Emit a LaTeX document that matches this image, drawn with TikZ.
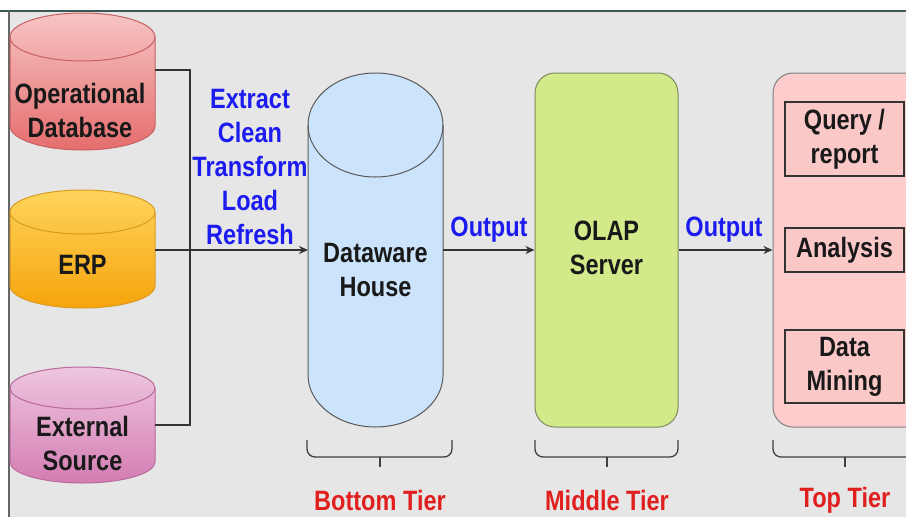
\documentclass[tikz,border=0pt]{standalone}
\usepackage{fontspec}
\setmainfont{Liberation Sans}[FakeStretch=0.84]
\usetikzlibrary{arrows.meta}
\definecolor{bggray}{HTML}{E6E6E6}
\definecolor{topline}{HTML}{3D5656}
\definecolor{opTop}{HTML}{F7C4C4}
\definecolor{opBot}{HTML}{E56D6D}
\definecolor{opLine}{HTML}{C76060}
\definecolor{erpTop}{HTML}{FFD45C}
\definecolor{erpBot}{HTML}{F5A40C}
\definecolor{erpLine}{HTML}{D99A20}
\definecolor{extTop}{HTML}{EEC6DF}
\definecolor{extBot}{HTML}{D47DB3}
\definecolor{extLine}{HTML}{B86A9A}
\definecolor{dwFill}{HTML}{CCE4FB}
\definecolor{olapFill}{HTML}{D3EA8B}
\definecolor{olapLine}{HTML}{7C8A5C}
\definecolor{tierFill}{HTML}{FDCDCD}
\definecolor{innerFill}{HTML}{FBC8C8}
\definecolor{lblue}{HTML}{1C1CF0}
\definecolor{lred}{HTML}{E0201E}
\definecolor{conn}{HTML}{333333}
\tikzset{
  txt/.style={font=\bfseries\fontsize{28}{34}\selectfont, text=black!90, align=center, inner sep=0pt},
  bluetxt/.style={txt, text=lblue},
  redtxt/.style={txt, text=lred},
  holder/.style={inner sep=0pt, outer sep=0pt},
  conline/.style={draw=conn, line width=1.5pt},
  arr/.style={conline, -{Stealth[length=9pt,width=8pt]}},
  bracestyle/.style={draw=black!75, line width=1.3pt, rounded corners=8pt},
  innerbox/.style={draw=black!80, line width=1.2pt, fill=innerFill, minimum width=119pt, inner sep=0pt}
}
\begin{document}
\begin{tikzpicture}[x=1pt,y=-1pt]
\useasboundingbox (0,0) rectangle (906,517);
\fill[white] (0,0) rectangle (906,517);
\fill[bggray] (9,11) rectangle (906,517);
\draw[topline, line width=2pt] (0,11) -- (906,11);
\draw[black!60, line width=1.5pt] (9,11) -- (9,517);

% cylinders: L R T B ry
% Operational: 10 155 13 150 24
\shade[top color=opTop, bottom color=opBot, draw=opLine, line width=1pt]
  (10,37) -- (10,126) arc[start angle=180,end angle=0,x radius=72.5,y radius=24]
  -- (155,37) arc[start angle=0,end angle=-180,x radius=72.5,y radius=24] -- cycle;
\draw[opLine, line width=1pt] (10,37) arc[start angle=180,end angle=0,x radius=72.5,y radius=24];
\node[holder, minimum width=145pt, minimum height=137pt] (op) at (82.5,81.5) {};
\node[txt] (opt) at (80,110) {Operational\\Database};

% ERP: 10 155 190 308 22
\shade[top color=erpTop, bottom color=erpBot, draw=erpLine, line width=1pt]
  (10,212) -- (10,286) arc[start angle=180,end angle=0,x radius=72.5,y radius=22]
  -- (155,212) arc[start angle=0,end angle=-180,x radius=72.5,y radius=22] -- cycle;
\draw[erpLine, line width=1pt] (10,212) arc[start angle=180,end angle=0,x radius=72.5,y radius=22];
\node[holder, minimum width=145pt, minimum height=118pt] (erp) at (82.5,249) {};
\node[txt] (erpt) at (82.5,265) {ERP};

% External: 10 155 367 483 21
\shade[top color=extTop, bottom color=extBot, draw=extLine, line width=1pt]
  (10,388) -- (10,462) arc[start angle=180,end angle=0,x radius=72.5,y radius=21]
  -- (155,388) arc[start angle=0,end angle=-180,x radius=72.5,y radius=21] -- cycle;
\draw[extLine, line width=1pt] (10,388) arc[start angle=180,end angle=0,x radius=72.5,y radius=21];
\node[holder, minimum width=145pt, minimum height=116pt] (ext) at (82.5,425) {};
\node[txt] (extt) at (82.5,443) {External\\Source};

% Dataware house: 308 443 73 427 52
\filldraw[fill=dwFill, draw=black!65, line width=1pt]
  (308,125) -- (308,375) arc[start angle=180,end angle=0,x radius=67.5,y radius=52]
  -- (443,125) arc[start angle=0,end angle=-180,x radius=67.5,y radius=52] -- cycle;
\draw[black!65, line width=1pt] (308,125) arc[start angle=180,end angle=0,x radius=67.5,y radius=52];
\node[holder, minimum width=135pt, minimum height=354pt] (dw) at (375.5,250) {};
\node[txt] (dwt) at (375.5,270) {Dataware\\House};

% OLAP server
\node[draw=olapLine, line width=1pt, fill=olapFill, rounded corners=20pt,
      minimum width=143pt, minimum height=354pt, inner sep=0pt] (olap) at (606.5,250) {};
\node[txt] (olapt) at (606.5,248) {OLAP\\Server};

% Top tier
\begin{scope}
\clip (0,0) rectangle (906,517);
\node[draw=black!50, line width=1pt, fill=tierFill, rounded corners=20pt,
      minimum width=152pt, minimum height=354pt, inner sep=0pt] (tier) at (849,250) {};
\node[innerbox, minimum height=74pt, txt] (qr) at (844.5,139) {Query /\\report};
\node[innerbox, minimum height=44pt, txt] (an) at (844.5,250) {Analysis};
\node[innerbox, minimum height=73pt, txt] (dm) at (844.5,366.5) {Data\\Mining};
\end{scope}

% connectors
\coordinate (j1) at (190,70);
\coordinate (j3) at (190,425);
\draw[conline] (op.east |- j1) -- (j1) -- (j3) -- (ext.east |- j3);
\draw[arr] (erp.east |- dw.west) -- (dw.west);
\draw[arr] (dw.east) -- (olap.west);
\draw[arr] (olap.east) -- (tier.west);

% labels
\node[bluetxt] (etl) at (250,167) {Extract\\Clean\\Transform\\Load\\Refresh};
\node[bluetxt] (out1) at (489,230) {Output};
\node[bluetxt] (out2) at (724,230) {Output};

% braces
\draw[bracestyle] (307,440) |- (380,457);
\draw[bracestyle] (452,440) |- (380,457);
\draw[bracestyle] (380,457) -- (380,467);
\draw[bracestyle] (535,440) |- (607,457);
\draw[bracestyle] (678,440) |- (607,457);
\draw[bracestyle] (607,457) -- (607,467);
\draw[bracestyle] (773,440) |- (845,457);
\draw[bracestyle] (917,440) |- (845,457);
\draw[bracestyle] (845,457) -- (845,467);

\node[redtxt] (bt) at (380,500) {Bottom Tier};
\node[redtxt] (mt) at (607,500) {Middle Tier};
\node[redtxt] (tt) at (845,500) {Top Tier};
\end{tikzpicture}
\end{document}
